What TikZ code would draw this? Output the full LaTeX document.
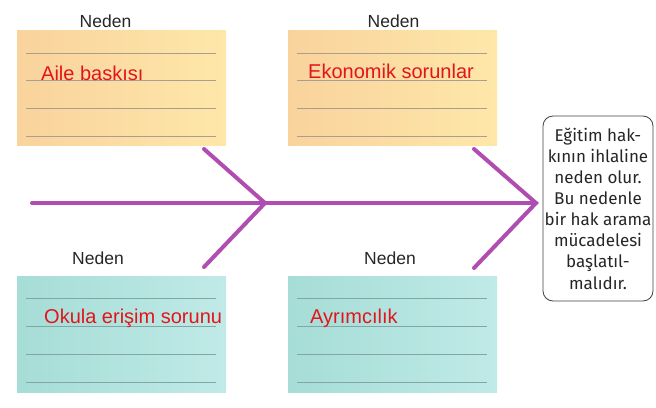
\documentclass[tikz,border=0pt]{standalone}
\usepackage{fontspec}
\setmainfont{Liberation Sans}
\newfontfamily\notefont{Fira Sans}
\usepackage{xcolor}
\usepackage{tikz}
\usetikzlibrary{positioning, calc}
\definecolor{bonepurple}{HTML}{B04DB0}
\definecolor{peachleft}{HTML}{F9D39C}
\definecolor{peachright}{HTML}{FEE7A9}
\definecolor{tealleft}{HTML}{A6DDD6}
\definecolor{tealright}{HTML}{C0EAE7}
\definecolor{causered}{HTML}{E3141B}
\definecolor{rulegray}{HTML}{A89E92}
\definecolor{ruleteal}{HTML}{82A6A3}
\tikzstyle{topbox} = [rectangle, anchor=north west, minimum width=209pt, minimum height=115pt,
  inner sep=0pt, left color=peachleft, right color=peachright]
\tikzstyle{bottombox} = [rectangle, anchor=north west, minimum width=209pt, minimum height=116pt,
  inner sep=0pt, left color=tealleft, right color=tealright]
\tikzstyle{nedenlabel} = [font=\fontsize{17.5}{20}\selectfont, text=black!85, anchor=base, inner sep=0pt]
\tikzstyle{causetext} = [font=\fontsize{20}{24}\selectfont, text=causered, anchor=base west, inner sep=0pt]
\tikzstyle{resultbox} = [rectangle, rounded corners=10pt, draw=black!75, line width=0.8pt, fill=white,
  minimum width=110pt, minimum height=185pt, inner sep=0pt, align=center,
  font=\notefont\fontsize{17}{21.15}\selectfont, text=black!85]
\tikzstyle{bone} = [line width=4pt, bonepurple, line cap=round]

\begin{document}
\begin{tikzpicture}[x=1pt, y=-1pt]
  \useasboundingbox (0,0) rectangle (656,407);

  \node (b1) [topbox] at (17,30) {};
  \node (b2) [topbox] at (288,30) {};
  \node (b3) [bottombox] at (17,276) {};
  \node (b4) [bottombox] at (288,276) {};

  \foreach \b in {b1,b2}
    \foreach \y in {23,50,78,106}
      \draw[rulegray, line width=1pt] ($(\b.north west)+(9,\y)$) -- ($(\b.north east)+(-10,\y)$);
  \foreach \b in {b3,b4}
    \foreach \y in {22,50,78,106}
      \draw[ruleteal, line width=1pt] ($(\b.north west)+(9,\y)$) -- ($(\b.north east)+(-10,\y)$);

  \node (n1) [nedenlabel] at (105.5,27) {Neden};
  \node (n2) [nedenlabel] at (393.5,27) {Neden};
  \node (n3) [nedenlabel] at (98,264) {Neden};
  \node (n4) [nedenlabel] at (390,264) {Neden};

  \node (c1) [causetext] at (41,80) {Aile baskısı};
  \node (c2) [causetext] at (308,78) {Ekonomik sorunlar};
  \node (c3) [causetext] at (44,323) {Okula erişim sorunu};
  \node (c4) [causetext] at (310,323) {Ayrımcılık};

  \node (result) [resultbox] at (598,208.5) {Eğitim hak-\\kının ihlaline\\neden olur.\\Bu nedenle\\bir hak arama\\mücadelesi\\başlatıl-\\malıdır.};

  % fish bones
  \coordinate (tail) at (32,203);
  \coordinate (j1) at (265,203);
  \coordinate (j2) at (536,203);
  \coordinate (u1) at (204,149);
  \coordinate (d1) at (204,267);
  \coordinate (u2) at (474,149);
  \coordinate (d2) at (474,268);

  \draw[bone] (tail) -- (j2);
  \draw[bone] (u1) -- (j1) -- (d1);
  \draw[bone] (u2) -- (j2) -- (d2);
\end{tikzpicture}
\end{document}
